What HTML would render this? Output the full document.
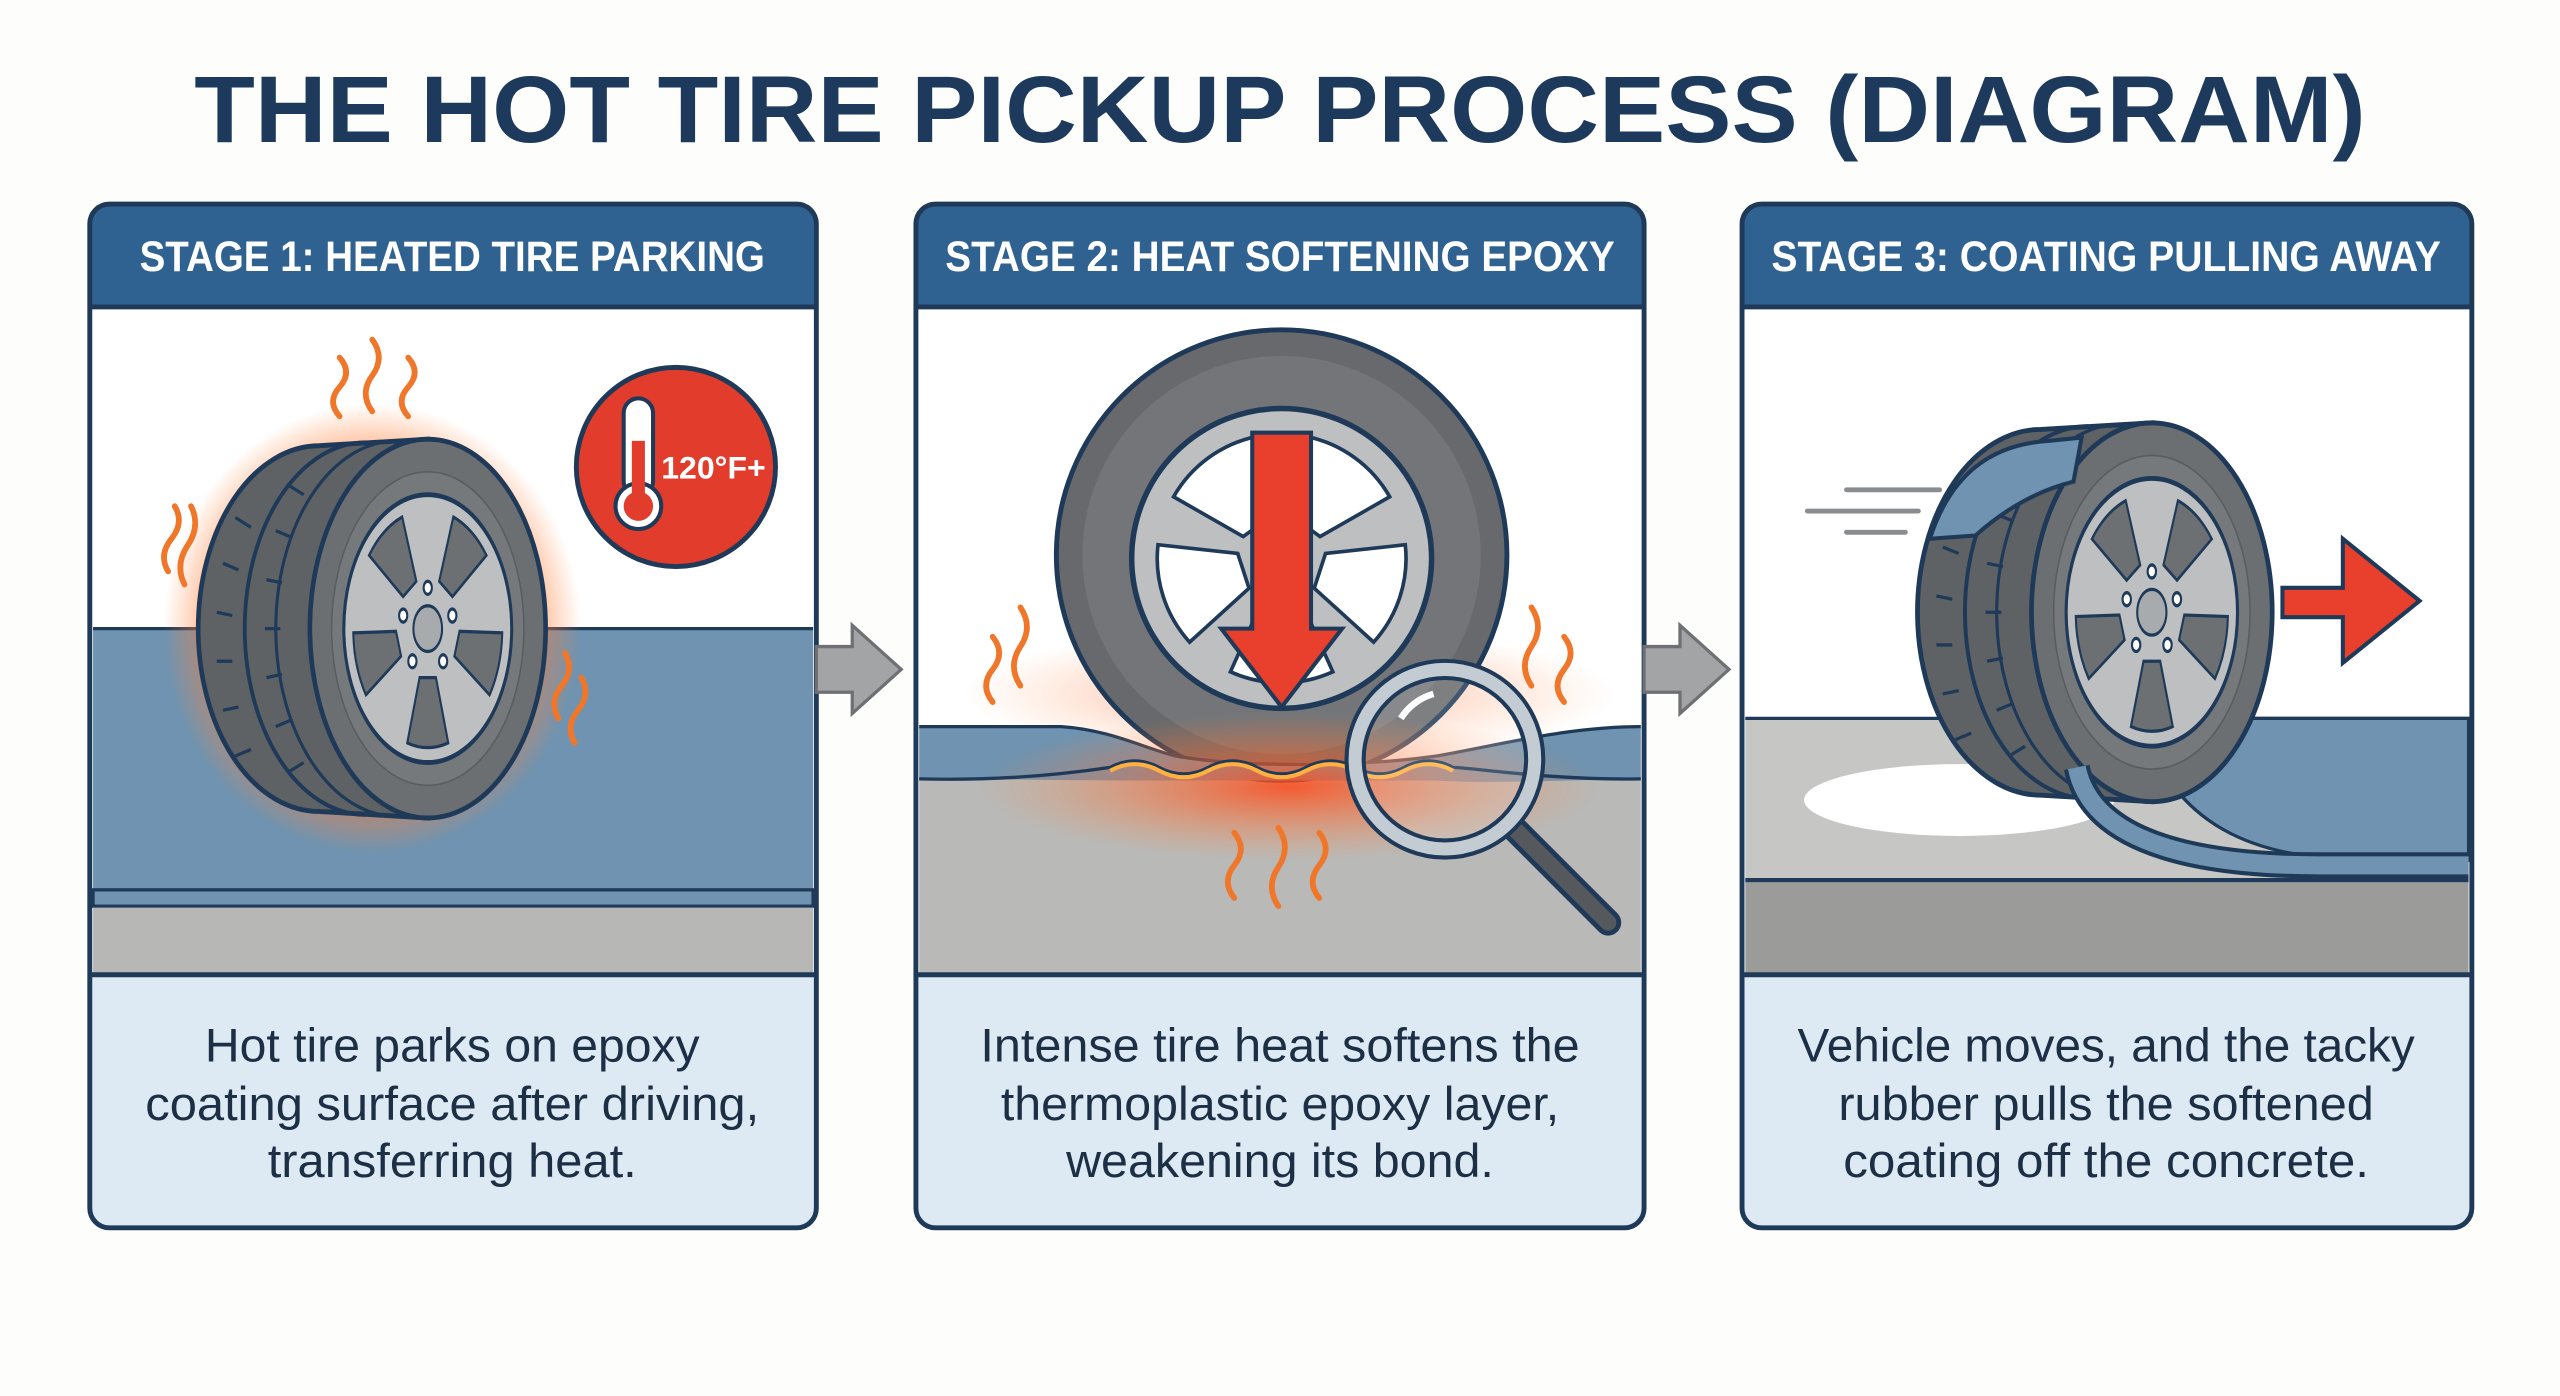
<!DOCTYPE html>
<html><head><meta charset="utf-8"><style>
html,body{margin:0;padding:0;background:#fdfdfb;width:2560px;height:1396px;overflow:hidden}
svg{display:block}
text{font-family:"Liberation Sans",sans-serif}
</style></head><body>
<svg width="2560" height="1396" viewBox="0 0 1568 855" preserveAspectRatio="none" xmlns="http://www.w3.org/2000/svg">
<defs>
<radialGradient id="glow" cx="50%" cy="50%" r="50%">
<stop offset="0.65" stop-color="#ff6a2a" stop-opacity="0.85"/>
<stop offset="1" stop-color="#ff8a40" stop-opacity="0"/>
</radialGradient>
<radialGradient id="glow2" cx="50%" cy="50%" r="50%">
<stop offset="0" stop-color="#ff4a1a" stop-opacity="0.85"/>
<stop offset="1" stop-color="#ff8a40" stop-opacity="0"/>
</radialGradient>
<g id="rim">
<circle r="82" fill="#bdbfc1" stroke="#1e3a58" stroke-width="3"/>
<g fill="#6d7073" stroke="#1e3a58" stroke-width="2">
<path id="hole" d="M-20,-70 A72,72 0 0 1 20,-70 L8,-30 L-8,-30 Z" transform="rotate(36)"/>
<use href="#hole" transform="rotate(72)"/><use href="#hole" transform="rotate(144)"/><use href="#hole" transform="rotate(216)"/><use href="#hole" transform="rotate(288)"/>
</g>
<circle r="14" fill="#a8abae" stroke="#1e3a58" stroke-width="2"/>
<g fill="#fff" stroke="#1e3a58" stroke-width="2">
<circle cx="0" cy="-25" r="4"/><circle cx="24" cy="-8" r="4"/><circle cx="15" cy="20" r="4"/><circle cx="-15" cy="20" r="4"/><circle cx="-24" cy="-8" r="4"/>
</g>
</g>
<g id="tire">
<path d="M-70,-112 L0,-116 L0,116 L-70,112 A78,112 0 0 1 -70,-112 Z" fill="#5f6265" stroke="#1e3a58" stroke-width="3"/>
<path d="M-40,-114 A78,114 0 0 0 -40,114" fill="none" stroke="#1e3a58" stroke-width="2.5"/>
<path d="M-20,-115 A78,115 0 0 0 -20,115" fill="none" stroke="#1e3a58" stroke-width="2"/>
<g stroke="#1e3a58" stroke-width="2" fill="none">
<path d="M-132,-40 l10,4 M-136,-10 l10,2 M-136,20 l10,0 M-132,50 l10,-2 M-124,78 l10,-4 M-124,-68 l10,6"/>
<path d="M-98,-60 l10,4 M-104,-30 l10,2 M-105,0 l10,0 M-104,30 l10,-2 M-98,60 l10,-4 M-90,88 l10,-6 M-90,-88 l10,6"/>
</g>
<ellipse rx="76" ry="116" fill="#6c6f72" stroke="#1e3a58" stroke-width="3"/>
<ellipse rx="62" ry="96" fill="#76797c" stroke="#5a5d60" stroke-width="1"/>
<use href="#rim" transform="scale(0.66,1.0)"/>
</g>
</defs>

<!-- Title -->
<text x="784" y="87" text-anchor="middle" font-size="58" font-weight="bold" fill="#1d3a5c" textLength="1330" lengthAdjust="spacingAndGlyphs">THE HOT TIRE PICKUP PROCESS (DIAGRAM)</text>

<!-- Panel frames -->
<g>
<rect x="55" y="125" width="445" height="627" rx="12" fill="#fff"/>
<rect x="561" y="125" width="446" height="627" rx="12" fill="#fff"/>
<rect x="1067" y="125" width="447" height="627" rx="12" fill="#fff"/>
</g>

<!-- PANEL 1 -->
<rect x="57" y="385" width="441" height="160" fill="#6f93b0"/>
<line x1="57" y1="385" x2="498" y2="385" stroke="#1e3a58" stroke-width="2"/>
<rect x="57" y="545" width="441" height="10" fill="#6f93b0" stroke="#1e3a58" stroke-width="2"/>
<rect x="57" y="556" width="441" height="41" fill="#b7b7b5"/>
<ellipse cx="228" cy="385" rx="128" ry="138" fill="url(#glow)"/>
<use href="#tire" transform="translate(262,385) scale(0.95,1)"/>
<g fill="none" stroke="#f0772a" stroke-width="3.5" stroke-linecap="round">
<path d="M208,255 q-8,-9 0,-18 q8,-9 0,-18"/><path d="M228,252 q-8,-11 0,-22 q8,-11 0,-22"/><path d="M250,255 q-8,-9 0,-18 q8,-9 0,-18"/>
<path d="M103,350 q-6,-10 2,-20 q8,-10 2,-20"/><path d="M113,358 q-6,-12 2,-24 q8,-12 2,-24"/>
<path d="M342,440 q-6,-10 2,-20 q8,-10 2,-20"/><path d="M352,455 q-6,-10 2,-20 q8,-10 2,-20"/>
</g>
<circle cx="414" cy="286" r="61" fill="#e23d2c" stroke="#1e3a58" stroke-width="3"/>
<rect x="382" y="244" width="18" height="60" rx="9" fill="#fff" stroke="#1e3a58" stroke-width="2.5"/>
<circle cx="391" cy="310" r="14" fill="#fff" stroke="#1e3a58" stroke-width="2.5"/>
<rect x="387" y="270" width="8" height="40" fill="#e23d2c"/><circle cx="391" cy="310" r="9" fill="#e23d2c"/>
<text x="437" y="293" text-anchor="middle" font-size="19" font-weight="bold" fill="#fff" textLength="64" lengthAdjust="spacingAndGlyphs">120°F+</text>

<!-- PANEL 2 -->
<rect x="563" y="477" width="442" height="120" fill="#b9b9b7"/>
<ellipse cx="790" cy="425" rx="200" ry="40" fill="url(#glow2)" opacity="0.6"/>
<circle cx="785" cy="340" r="138" fill="#67696c" stroke="#1e3a58" stroke-width="3"/>
<circle cx="785" cy="340" r="122" fill="#737578"/>
<g transform="translate(785,342) scale(1.12)">
<circle r="82" fill="#bdbfc1" stroke="#1e3a58" stroke-width="3"/>
<g fill="#fff" stroke="#1e3a58" stroke-width="2">
<path id="h2" d="M-28,-62 A68,68 0 0 1 28,-62 L10,-22 L-10,-22 Z" transform="rotate(36)"/>
<use href="#h2" transform="rotate(72)"/><use href="#h2" transform="rotate(144)"/><use href="#h2" transform="rotate(216)"/><use href="#h2" transform="rotate(288)"/>
</g>
</g>
<path d="M563,445 L650,445 C680,447 700,458 720,463 C760,470 830,470 880,463 C920,456 960,445 1005,445 L1005,477 C950,478 910,480 880,478 L690,478 C650,478 610,477 563,477 Z" fill="#6f93b0"/>
<path d="M563,445 L650,445 C680,447 700,458 720,463 C760,470 830,470 880,463 C920,456 960,445 1005,445" fill="none" stroke="#1e3a58" stroke-width="2"/>
<ellipse cx="790" cy="482" rx="190" ry="45" fill="url(#glow2)"/>
<path d="M563,477 C600,478 640,476 680,470 q15,-8 30,0 q15,8 30,0 q15,-8 30,0 q15,8 30,0 q15,-8 30,0 q15,8 30,0 q15,-8 30,0 C900,470 950,478 1005,477" fill="none" stroke="#1e3a58" stroke-width="2"/>
<path d="M680,472 q15,-8 30,0 q15,8 30,0 q15,-8 30,0 q15,8 30,0 q15,-8 30,0 q15,8 30,0 q15,-8 30,0" fill="none" stroke="#ffb040" stroke-width="2.5"/>
<path d="M767,265 L803,265 L803,385 L822,385 L785,433 L748,385 L767,385 Z" fill="#e8402c" stroke="#1e3a58" stroke-width="2.5"/>
<g fill="none" stroke="#f0772a" stroke-width="3.5" stroke-linecap="round">
<path d="M608,430 q-8,-10 0,-20 q8,-10 0,-20"/><path d="M625,420 q-8,-12 0,-24 q8,-12 0,-24"/>
<path d="M938,420 q-8,-12 0,-24 q8,-12 0,-24"/><path d="M958,430 q-8,-10 0,-20 q8,-10 0,-20"/>
<path d="M756,550 q-8,-10 0,-20 q8,-10 0,-20"/><path d="M783,555 q-8,-12 0,-24 q8,-12 0,-24"/><path d="M808,550 q-8,-10 0,-20 q8,-10 0,-20"/>
</g>
<line x1="925" y1="505" x2="985" y2="565" stroke="#1e3a58" stroke-width="16" stroke-linecap="round"/>
<line x1="925" y1="505" x2="985" y2="565" stroke="#55595d" stroke-width="10" stroke-linecap="round"/>
<circle cx="885" cy="465" r="55" fill="rgba(255,255,255,0.15)" stroke="#1e3a58" stroke-width="13"/>
<circle cx="885" cy="465" r="55" fill="none" stroke="#c4ccd3" stroke-width="8"/>
<path d="M858,440 a35,35 0 0 1 20,-15" fill="none" stroke="#fff" stroke-width="4"/>

<!-- PANEL 3 -->
<rect x="1069" y="440" width="443" height="98" fill="#c6c6c4"/>
<line x1="1069" y1="440" x2="1512" y2="440" stroke="#1e3a58" stroke-width="2"/>
<rect x="1069" y="540" width="443" height="57" fill="#9b9b99"/>
<line x1="1069" y1="539" x2="1512" y2="539" stroke="#1e3a58" stroke-width="2.5"/>
<ellipse cx="1200" cy="490" rx="95" ry="22" fill="#fff"/>
<path d="M1330,440 L1512,440 L1512,527 L1420,525 C1370,520 1345,500 1330,480 Z" fill="#6f93b0" stroke="#1e3a58" stroke-width="2"/>
<use href="#tire" transform="translate(1318,375) scale(0.97,1.0)"/>
<path d="M1182,330 C1195,290 1220,272 1255,270 L1275,268 L1270,295 C1250,300 1230,310 1210,328 Z" fill="#6f93b0" stroke="#1e3a58" stroke-width="2.5"/>
<path d="M1272,470 C1280,510 1330,530 1420,530 L1512,530" fill="none" stroke="#1e3a58" stroke-width="16"/>
<path d="M1272,470 C1280,510 1330,530 1420,530 L1512,530" fill="none" stroke="#6f93b0" stroke-width="11"/>
<path d="M1398,360 L1435,360 L1435,330 L1482,368 L1435,406 L1435,378 L1398,378 Z" fill="#e8402c" stroke="#1e3a58" stroke-width="2.5"/>
<g stroke="#8a8d90" stroke-width="3" stroke-linecap="round">
<line x1="1131" y1="300" x2="1188" y2="300"/><line x1="1107" y1="313" x2="1175" y2="313"/><line x1="1131" y1="326" x2="1167" y2="326"/>
</g>

<!-- Headers & text areas & frame borders -->
<g>
<path d="M55,188 V137 a12,12 0 0 1 12,-12 H488 a12,12 0 0 1 12,12 V188 Z" fill="#2f6291"/>
<path d="M561,188 V137 a12,12 0 0 1 12,-12 H995 a12,12 0 0 1 12,12 V188 Z" fill="#2f6291"/>
<path d="M1067,188 V137 a12,12 0 0 1 12,-12 H1502 a12,12 0 0 1 12,12 V188 Z" fill="#2f6291"/>
<path d="M55,597 H500 V740 a12,12 0 0 1 -12,12 H67 a12,12 0 0 1 -12,-12 Z" fill="#dde9f3"/>
<path d="M561,597 H1007 V740 a12,12 0 0 1 -12,12 H573 a12,12 0 0 1 -12,-12 Z" fill="#dde9f3"/>
<path d="M1067,597 H1514 V740 a12,12 0 0 1 -12,12 H1079 a12,12 0 0 1 -12,-12 Z" fill="#dde9f3"/>
</g>
<g stroke="#1e3a58" stroke-width="3" fill="none">
<rect x="55" y="125" width="445" height="627" rx="12"/>
<rect x="561" y="125" width="446" height="627" rx="12"/>
<rect x="1067" y="125" width="447" height="627" rx="12"/>
<line x1="55" y1="188" x2="500" y2="188"/><line x1="561" y1="188" x2="1007" y2="188"/><line x1="1067" y1="188" x2="1514" y2="188"/>
<line x1="55" y1="597" x2="500" y2="597"/><line x1="561" y1="597" x2="1007" y2="597"/><line x1="1067" y1="597" x2="1514" y2="597"/>
</g>
<g font-size="26" font-weight="bold" fill="#fff" text-anchor="middle">
<text x="277" y="166" textLength="383" lengthAdjust="spacingAndGlyphs">STAGE 1: HEATED TIRE PARKING</text>
<text x="784" y="166" textLength="410" lengthAdjust="spacingAndGlyphs">STAGE 2: HEAT SOFTENING EPOXY</text>
<text x="1290" y="166" textLength="410" lengthAdjust="spacingAndGlyphs">STAGE 3: COATING PULLING AWAY</text>
</g>
<g font-size="29" fill="#1d2f45" text-anchor="middle">
<text x="277" y="650" textLength="303" lengthAdjust="spacingAndGlyphs">Hot tire parks on epoxy</text>
<text x="277" y="686" textLength="376" lengthAdjust="spacingAndGlyphs">coating surface after driving,</text>
<text x="277" y="721" textLength="226" lengthAdjust="spacingAndGlyphs">transferring heat.</text>
<text x="784" y="650" textLength="367" lengthAdjust="spacingAndGlyphs">Intense tire heat softens the</text>
<text x="784" y="686" textLength="342" lengthAdjust="spacingAndGlyphs">thermoplastic epoxy layer,</text>
<text x="784" y="721" textLength="262" lengthAdjust="spacingAndGlyphs">weakening its bond.</text>
<text x="1290" y="650" textLength="378" lengthAdjust="spacingAndGlyphs">Vehicle moves, and the tacky</text>
<text x="1290" y="686" textLength="328" lengthAdjust="spacingAndGlyphs">rubber pulls the softened</text>
<text x="1290" y="721" textLength="322" lengthAdjust="spacingAndGlyphs">coating off the concrete.</text>
</g>

<!-- connector arrows -->
<g fill="#a3a4a6" stroke="#6e7073" stroke-width="2">
<path d="M500,396 L522,396 L522,383 L552,410 L522,437 L522,424 L500,424 Z"/>
<path d="M1007,396 L1029,396 L1029,383 L1059,410 L1029,437 L1029,424 L1007,424 Z"/>
</g>
</svg>
</body></html>
